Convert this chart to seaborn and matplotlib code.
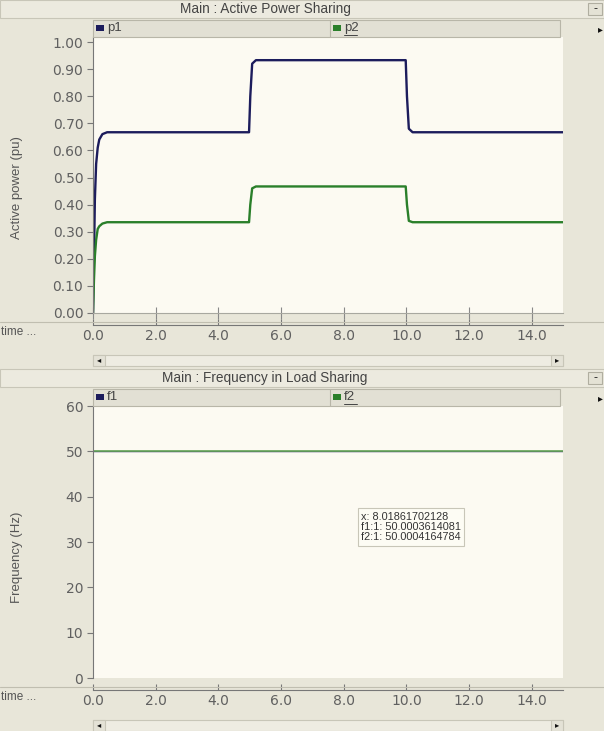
import numpy as np
import pandas as pd
import matplotlib
matplotlib.use("Agg")
import matplotlib.pyplot as plt
from matplotlib.patches import Rectangle
import seaborn as sns

# --- data ---
t_power = [0.0, 0.03, 0.06, 0.1, 0.15, 0.2, 0.3, 0.45, 4.98, 5.02, 5.08, 5.2, 9.98, 10.02, 10.08, 10.2, 15.0]
p1 = [0.0, 0.20, 0.42, 0.55, 0.61, 0.64, 0.66, 0.667, 0.667, 0.80, 0.92, 0.933, 0.933, 0.80, 0.68, 0.667, 0.667]
p2 = [0.0, 0.12, 0.21, 0.27, 0.31, 0.32, 0.33, 0.335, 0.335, 0.40, 0.46, 0.467, 0.467, 0.40, 0.34, 0.335, 0.335]

t_freq = [0.0, 15.0]
f1 = [50.0004, 50.0004]
f2 = [50.0004, 50.0004]

x_ticks = [0, 2, 4, 6, 8, 10, 12, 14]
x_labels = ["0.0", "2.0", "4.0", "6.0", "8.0", "10.0", "12.0", "14.0"]
p_ticks = [0.0, 0.1, 0.2, 0.3, 0.4, 0.5, 0.6, 0.7, 0.8, 0.9, 1.0]
f_ticks = [0, 10, 20, 30, 40, 50, 60]

power = pd.DataFrame({"t": t_power, "p1": p1, "p2": p2})
freq = pd.DataFrame({"t": t_freq, "f1": f1, "f2": f2})

sns.set_style("ticks")
plt.rcParams["font.family"] = ["Liberation Sans", "DejaVu Sans"]

W, H = 604, 731
BG = "#e8e6d9"
PANEL = "#fcfaf2"
GREY = "#606060"
NAVY = "#1c1c5c"
GREEN = "#2a7f2a"
TICKFONT = dict(family="DejaVu Sans", size=10)

fig = plt.figure(figsize=(W / 100, H / 100), dpi=100, facecolor=BG)


def frac(x0, y0, x1, y1):
    return [x0 / W, 1 - y1 / H, (x1 - x0) / W, (y1 - y0) / H]


def rect(x0, y0, x1, y1, fc, ec="none", lw=0.8):
    fig.patches.append(Rectangle((x0 / W, 1 - y1 / H), (x1 - x0) / W, (y1 - y0) / H,
                                 transform=fig.transFigure, fc=fc, ec=ec, lw=lw))


def ftext(x, y, s, **kw):
    fig.text(x / W, 1 - y / H, s, **kw)


def panel(top, title, names, colors, ylabel):
    # title bar
    rect(0, top, 604, top + 18, "#eceadf", ec="#c8c6b8")
    ftext(265, top + 9, title, ha="center", va="center", fontsize=9.8, color="#444444")
    rect(588, top + 3, 602, top + 15, "#e4e2d5", ec="#b0aea0")
    ftext(595, top + 9, "-", ha="center", va="center", fontsize=9, color="#222222")
    # legend bar
    rect(93, top + 20, 560, top + 37, "#e2e0d4", ec="#b8b6a8")
    fig.add_artist(plt.Line2D([330 / W, 330 / W], [1 - (top + 20) / H, 1 - (top + 37) / H],
                              transform=fig.transFigure, color="#b8b6a8", lw=0.8))
    for (x, name, col, under) in [(96, names[0], colors[0], False), (333, names[1], colors[1], True)]:
        rect(x, top + 25, x + 8, top + 31, col)
        ftext(x + 11, top + 28, name, ha="left", va="center", fontsize=9.5, color="#444444")
        if under:
            fig.add_artist(plt.Line2D([(x + 11) / W, (x + 24) / W], [1 - (top + 35) / H] * 2,
                                      transform=fig.transFigure, color="#444444", lw=0.7))
    ftext(600, top + 29, "\u25b8", ha="center", va="center", fontsize=7, color="#111111")
    ftext(17, top + 188, ylabel, rotation=90, ha="center", va="center", fontsize=9.5, color="#555555")


def time_axis(y):
    fig.add_artist(plt.Line2D([0, 1], [1 - (y - 3) / H] * 2, transform=fig.transFigure,
                              color="#c0beb0", lw=0.8))
    tax = fig.add_axes(frac(93, y - 1, 563, y))
    tax.set_facecolor("none")
    for s in ["top", "left", "right"]:
        tax.spines[s].set_visible(False)
    tax.spines["bottom"].set_color("#777777")
    tax.set_xlim(0, 15)
    tax.set_xticks(x_ticks)
    tax.set_xticklabels(x_labels, fontdict=TICKFONT)
    tax.set_yticks([])
    tax.tick_params(axis="x", direction="in", length=4, color="#777777",
                    labelcolor=GREY, pad=3)
    ftext(1, y + 7, "time ...", ha="left", va="center", fontsize=8.5, color="#555555")
    # scroll bar
    sy = y + 30
    rect(93, sy, 563, sy + 11, "#eeece2", ec="#c8c6b8")
    rect(93, sy, 105, sy + 11, "#e4e2d6", ec="#c8c6b8")
    rect(551, sy, 563, sy + 11, "#e4e2d6", ec="#c8c6b8")
    ftext(99, sy + 5.5, "\u25c2", ha="center", va="center", fontsize=6, color="#111111")
    ftext(557, sy + 5.5, "\u25b8", ha="center", va="center", fontsize=6, color="#111111")


def style_axes(ax, grid_ticks=True):
    ax.set_facecolor(PANEL)
    for s in ["top", "right"]:
        ax.spines[s].set_visible(False)
    ax.spines["left"].set_color("#777777")
    ax.spines["bottom"].set_color("#a8a8a0")
    ax.set_xlim(0, 15)
    ax.set_xticks(x_ticks if grid_ticks else [])
    ax.set_xticklabels([])
    ax.tick_params(axis="x", direction="inout", length=8, color="#888888")
    ax.tick_params(axis="y", direction="out", length=4, color="#777777",
                   labelcolor=GREY, pad=3)
    ax.set_xlabel("")
    ax.set_ylabel("")
    if not grid_ticks:
        ax.spines["bottom"].set_visible(False)


# ---------- top panel: active power ----------
panel(0, "Main : Active Power Sharing", ["p1", "p2"], [NAVY, GREEN], "Active power (pu)")
ax1 = fig.add_axes(frac(93, 37, 563, 313))
sns.lineplot(data=power, x="t", y="p1", ax=ax1, color=NAVY, lw=1.7)
sns.lineplot(data=power, x="t", y="p2", ax=ax1, color=GREEN, lw=1.7)
style_axes(ax1)
ax1.set_ylim(0, 1.0185)
ax1.set_yticks(p_ticks)
ax1.set_yticklabels([f"{v:.2f}" for v in p_ticks], fontdict=TICKFONT)
time_axis(325)

# ---------- bottom panel: frequency ----------
panel(369, "Main : Frequency in Load Sharing", ["f1", "f2"], [NAVY, GREEN], "Frequency (Hz)")
ax2 = fig.add_axes(frac(93, 406, 563, 678))
sns.lineplot(data=freq, x="t", y="f1", ax=ax2, color=NAVY, lw=1.0)
sns.lineplot(data=freq, x="t", y="f2", ax=ax2, color="#6aaa5a", lw=1.2)
style_axes(ax2, grid_ticks=False)
ax2.set_ylim(0, 60.0)
ax2.set_yticks(f_ticks)
ax2.set_yticklabels([str(v) for v in f_ticks], fontdict=TICKFONT)
ax2.text(8.55, 33.3, "x: 8.01861702128\nf1:1: 50.0003614081\nf2:1: 50.0004164784",
         fontsize=7.8, color="#333333", va="center", ha="left", linespacing=1.05,
         bbox=dict(boxstyle="square,pad=0.3", fc="#fdfcf4", ec="#c8c6b8", lw=0.8))
time_axis(690)

fig.savefig("out.png", dpi=100, facecolor=BG)
